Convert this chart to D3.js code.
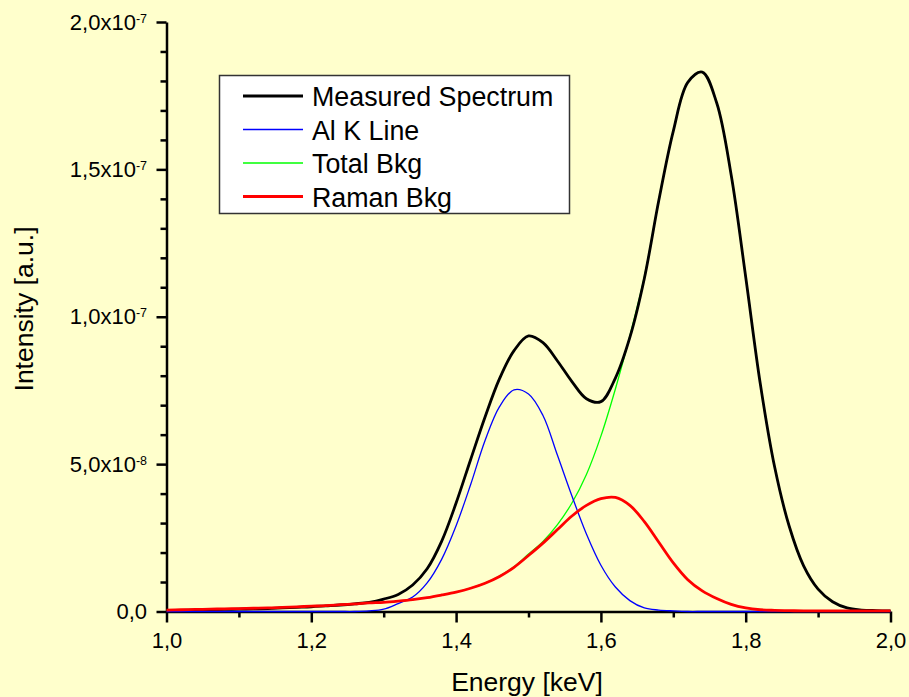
<!DOCTYPE html>
<meta charset="utf-8">
<style>
body { margin: 0; background: #ffffcc; }
text { font-family: "Liberation Sans", Arial, sans-serif; fill: #000; }
.axis path, .axis line { stroke: #000; stroke-width: 2.5px; }
.curve { fill: none; stroke-linejoin: round; }
</style>
<body>
<script src="https://cdn.jsdelivr.net/npm/d3@7"></script>
<script>

// energy grid [keV]
var energy = [1.00, 1.02, 1.04, 1.06, 1.08, 1.10, 1.12, 1.14, 1.16, 1.18,
              1.20, 1.22, 1.24, 1.26, 1.28, 1.30, 1.32, 1.34, 1.36, 1.38,
              1.40, 1.42, 1.44, 1.46, 1.48, 1.50, 1.52, 1.54, 1.56, 1.58,
              1.60, 1.62, 1.64, 1.66, 1.68, 1.70, 1.72, 1.74, 1.76, 1.78,
              1.80, 1.82, 1.84, 1.86, 1.88, 1.90, 1.92, 1.94, 1.96, 1.98, 2.00];

// intensities, in units of 1e-8 a.u.
var measured = [0.03, 0.04, 0.05, 0.06, 0.07, 0.08, 0.09, 0.10, 0.12, 0.14,
                0.16, 0.19, 0.22, 0.26, 0.31, 0.42, 0.58, 0.90, 1.45, 2.38,
                3.68, 5.15, 6.60, 7.90, 8.85, 9.35, 9.12, 8.50, 7.80, 7.22,
                7.12, 7.92, 9.30, 11.3, 13.95, 16.3, 17.95, 18.3, 17.25, 14.8,
                11.35, 7.75, 4.90, 2.90, 1.55, 0.76, 0.33, 0.12, 0.05, 0.03, 0.02];

var alKLine = [0, 0, 0, 0, 0, 0, 0, 0, 0, 0,
               0, 0, 0, 0, 0.02, 0.08, 0.27, 0.49, 0.97, 1.77,
               2.91, 4.30, 5.80, 6.95, 7.52, 7.38, 6.65, 5.30, 3.92, 2.63,
               1.57, 0.83, 0.37, 0.12, 0.05, 0.02, 0, 0, 0, 0,
               0, 0, 0, 0, 0, 0, 0, 0, 0, 0, 0];

var totalBkg = [0.05, 0.06, 0.07, 0.08, 0.09, 0.10, 0.11, 0.12, 0.14, 0.16,
                0.18, 0.20, 0.23, 0.26, 0.29, 0.31, 0.35, 0.40, 0.47, 0.56,
                0.66, 0.79, 0.96, 1.20, 1.52, 1.95, 2.38, 2.95, 3.68, 4.65,
                5.95, 7.55, 9.35, 11.35, 13.95, 16.3, 17.95, 18.3, 17.25, 14.8,
                11.35, 7.75, 4.90, 2.90, 1.55, 0.76, 0.33, 0.12, 0.05, 0.03, 0.02];

var ramanBkg = [0.05, 0.06, 0.07, 0.08, 0.09, 0.10, 0.11, 0.12, 0.14, 0.16,
                0.18, 0.20, 0.23, 0.26, 0.29, 0.31, 0.35, 0.40, 0.47, 0.56,
                0.66, 0.79, 0.96, 1.19, 1.50, 1.90, 2.32, 2.78, 3.24, 3.60,
                3.83, 3.87, 3.60, 3.05, 2.35, 1.65, 1.08, 0.70, 0.44, 0.24,
                0.12, 0.06, 0.04, 0.03, 0.02, 0.02, 0.02, 0.02, 0.02, 0.02, 0.02];

// axis ticks
var xMajor = [1.0, 1.2, 1.4, 1.6, 1.8, 2.0];
var xMinor = [1.1, 1.3, 1.5, 1.7, 1.9];
var yMajor = [0, 5e-8, 10e-8, 15e-8, 20e-8];
var yMinor = [1e-8, 2e-8, 3e-8, 4e-8, 6e-8, 7e-8, 8e-8, 9e-8,
              11e-8, 12e-8, 13e-8, 14e-8, 16e-8, 17e-8, 18e-8, 19e-8];
var yTickBase = ["0,0", "5,0x10", "1,0x10", "1,5x10", "2,0x10"];
var yTickExp = ["", "-8", "-7", "-7", "-7"];

// legend
var seriesNames = ["Measured Spectrum", "Al K Line", "Total Bkg", "Raman Bkg"];
var seriesColors = ["#000000", "#0000ff", "#00ff00", "#ff0000"];
var seriesWidths = [2.8, 1.3, 1.3, 2.8];

var W = 909, H = 697;

var svg = d3.select("body").append("svg")
    .attr("width", W)
    .attr("height", H);

svg.append("rect")
    .attr("width", W).attr("height", H)
    .attr("fill", "#ffffcc");

var x = d3.scaleLinear().domain([1, 2]).range([166.5, 890.5]);
var y = d3.scaleLinear().domain([0, 20e-8]).range([611.5, 22]);

var comma = d3.formatLocale({decimal: ",", thousands: ".", grouping: [3], currency: ["", ""]});
var fmtX = comma.format(".1f");

// minor ticks first, then major axes on top
svg.append("g").attr("class", "axis")
    .attr("transform", "translate(0," + y(0) + ")")
    .call(d3.axisBottom(x).tickValues(xMinor).tickSize(6).tickFormat(""))
    .select(".domain").remove();

svg.append("g").attr("class", "axis")
    .attr("transform", "translate(" + x(1) + ",0)")
    .call(d3.axisLeft(y).tickValues(yMinor).tickSize(6).tickFormat(""))
    .select(".domain").remove();

var xAxis = svg.append("g").attr("class", "axis")
    .attr("transform", "translate(0," + y(0) + ")")
    .call(d3.axisBottom(x).tickValues(xMajor).tickSize(11).tickSizeOuter(0).tickFormat(fmtX));
xAxis.selectAll("text")
    .attr("font-size", 22)
    .attr("font-family", "Liberation Sans, Arial, sans-serif")
    .attr("dy", null)
    .attr("y", 648 - y(0));

var yAxis = svg.append("g").attr("class", "axis")
    .attr("transform", "translate(" + x(1) + ",0)")
    .call(d3.axisLeft(y).tickValues(yMajor).tickSize(10).tickSizeOuter(0).tickFormat(""));

// y tick labels with superscript exponent
var yLab = svg.append("g").selectAll("text")
    .data(yMajor)
  .enter().append("text")
    .attr("x", 147)
    .attr("y", d => y(d) + 7.5)
    .attr("text-anchor", "end")
    .attr("font-size", 22);
yLab.append("tspan").text((d, i) => yTickBase[i]);
yLab.append("tspan")
    .attr("font-size", 12.5)
    .attr("dy", -7)
    .text((d, i) => yTickExp[i]);

// axis titles
svg.append("text")
    .attr("x", 527).attr("y", 691)
    .attr("text-anchor", "middle")
    .attr("font-size", 26.5)
    .text("Energy [keV]");

svg.append("text")
    .attr("transform", "translate(33,309) rotate(-90)")
    .attr("text-anchor", "middle")
    .attr("font-size", 26.5)
    .text("Intensity [a.u.]");

// curves
var line = d3.line()
    .x((d, i) => x(energy[i]))
    .y(d => y(d * 1e-8))
    .curve(d3.curveCatmullRom.alpha(0.5));

var drawOrder = [
  {vals: totalBkg, k: 2},
  {vals: measured, k: 0},
  {vals: alKLine, k: 1},
  {vals: ramanBkg, k: 3}
];

svg.append("g").selectAll("path")
    .data(drawOrder)
  .enter().append("path")
    .attr("class", "curve")
    .attr("d", d => line(d.vals))
    .attr("stroke", d => seriesColors[d.k])
    .attr("stroke-width", d => seriesWidths[d.k]);

// legend
var legend = svg.append("g");
legend.append("rect")
    .attr("x", 219.5).attr("y", 75.5)
    .attr("width", 350).attr("height", 138)
    .attr("fill", "#ffffff")
    .attr("stroke", "#333")
    .attr("stroke-width", 1.5);

var item = legend.selectAll(".item")
    .data(seriesNames)
  .enter().append("g")
    .attr("transform", (d, i) => "translate(0," + (96 + i * 33.5) + ")");

item.append("line")
    .attr("x1", 243).attr("x2", 303)
    .attr("stroke", (d, i) => seriesColors[i])
    .attr("stroke-width", (d, i) => seriesWidths[i]);

item.append("text")
    .attr("x", 312).attr("y", 10)
    .attr("font-size", 26.8)
    .text(d => d);

</script>
</body>
